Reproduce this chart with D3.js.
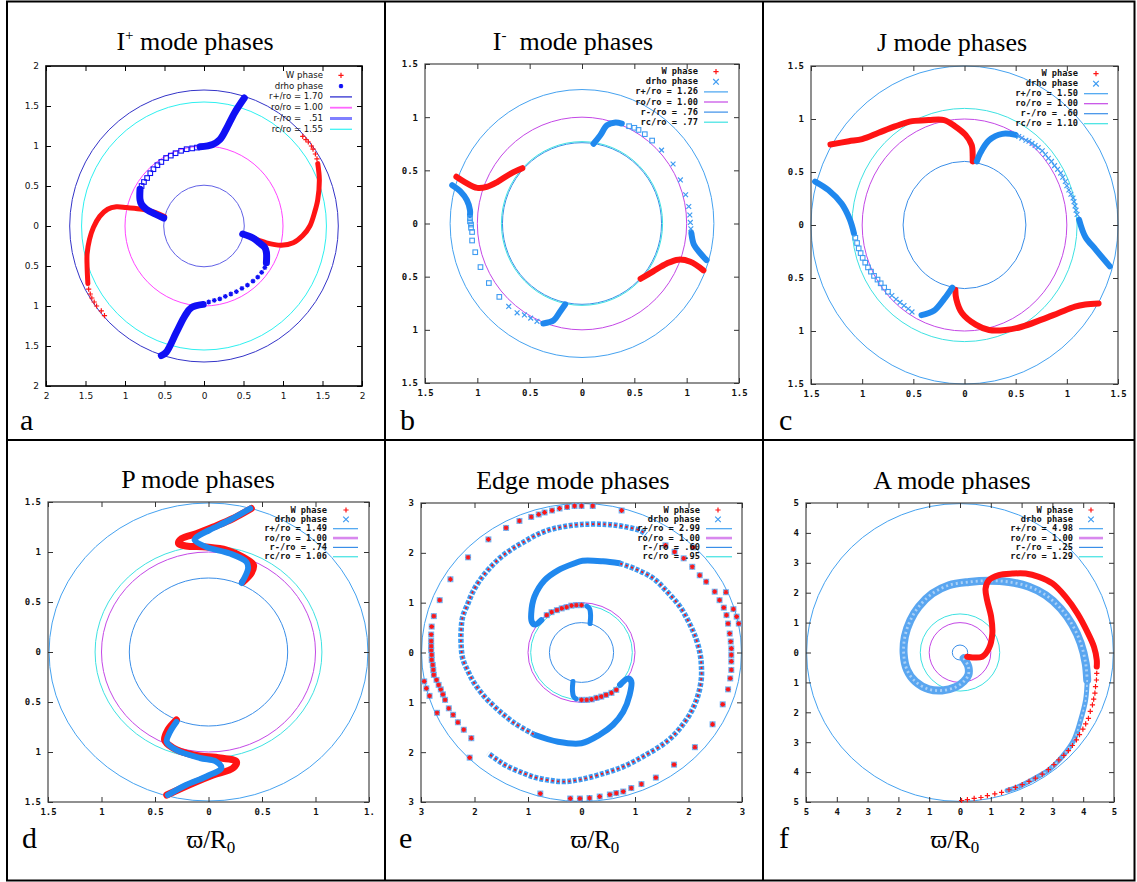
<!DOCTYPE html>
<html>
<head>
<meta charset="utf-8">
<script src="https://cdn.jsdelivr.net/npm/d3@7"></script>
<style>
body { margin: 0; background: #fff; }
svg { display: block; }
</style>
</head>
<body>
<svg id="fig" width="1137" height="882"></svg>
<script>
// mode phase plots, six panels

// ---- text ----
const titleHead = ["I", "I", "J", "P", "Edge", "A"]
const titleSup = ["+", "-", "", "", "", ""]
const panelLetters = ["a", "b", "c", "d", "e", "f"]

const legendA = ["W phase", "drho phase", "r+/ro = 1.70", "ro/ro = 1.00", "r-/ro =   .51", "rc/ro = 1.55"]
const legendB = ["W phase", "drho phase", "r+/ro = 1.26", "ro/ro = 1.00", "r-/ro = .76", "rc/ro = .77"]
const legendC = ["W phase", "drho phase", "r+/ro = 1.50", "ro/ro = 1.00", "r-/ro = .60", "rc/ro = 1.10"]
const legendD = ["W phase", "drho phase", "r+/ro = 1.49", "ro/ro = 1.00", "r-/ro = .74", "rc/ro = 1.06"]
const legendE = ["W phase", "drho phase", "r+/ro = 2.99", "ro/ro = 1.00", "r-/ro = .60", "rc/ro = .95"]
const legendF = ["W phase", "drho phase", "r+/ro = 4.98", "ro/ro = 1.00", "r-/ro = .25", "rc/ro = 1.29"]

// ---- circle radii (r+, ro, r-, rc) ----
const radiiA = [1.70, 1.00, 0.51, 1.55]
const radiiB = [1.26, 1.00, 0.76, 0.77]
const radiiC = [1.50, 1.00, 0.60, 1.10]
const radiiD = [1.49, 1.00, 0.74, 1.06]
const radiiE = [2.99, 1.00, 0.60, 0.95]
const radiiF = [4.98, 1.00, 0.25, 1.29]

// ---- ticks ----
const ticks2 = [-2, -1.5, -1, -0.5, 0, 0.5, 1, 1.5, 2]
const tickLabels2 = ["2", "1.5", "1", "0.5", "0", "0.5", "1", "1.5", "2"]
const ticks15 = [-1.5, -1, -0.5, 0, 0.5, 1, 1.5]
const tickLabels15 = ["1.5", "1", "0.5", "0", "0.5", "1", "1.5"]
const tickLabels15d = ["1.5", "1", "0.5", "0", "0.5", "1", "1."]
const ticks3 = [-3, -2, -1, 0, 1, 2, 3]
const tickLabels3 = ["3", "2", "1", "0", "1", "2", "3"]
const ticks5 = [-5, -4, -3, -2, -1, 0, 1, 2, 3, 4, 5]
const tickLabels5 = ["5", "4", "3", "2", "1", "0", "1", "2", "3", "4", "5"]

// ---- panel a : I+ ----
const aW1Band = [[-0.50,0.12],[-0.62,0.17],[-0.78,0.21],[-0.98,0.23],[-1.11,0.24],[-1.22,0.21],[-1.32,0.12],[-1.40,-0.02],[-1.45,-0.17],[-1.48,-0.35],[-1.48,-0.50],[-1.47,-0.72]]
const aW1Dots = [[-1.46,-0.79],[-1.44,-0.85],[-1.42,-0.90],[-1.39,-0.95],[-1.36,-1.00],[-1.30,-1.06],[-1.26,-1.12]]
const aW2Band = [[0.49,-0.10],[0.62,-0.15],[0.79,-0.21],[0.98,-0.24],[1.13,-0.21],[1.25,-0.12],[1.34,0.00],[1.40,0.17],[1.44,0.33],[1.46,0.58],[1.44,0.78]]
const aW2Dots = [[1.43,0.84],[1.41,0.90],[1.38,0.96],[1.36,1.00],[1.32,1.05],[1.29,1.08],[1.25,1.12]]
const aD1Band = [[-0.51,0.10],[-0.62,0.15],[-0.73,0.21],[-0.79,0.27],[-0.81,0.33],[-0.81,0.46]]
const aD1Squares = [[-0.79,0.50],[-0.76,0.55],[-0.72,0.60],[-0.68,0.66],[-0.64,0.71],[-0.59,0.76],[-0.54,0.80],[-0.48,0.85],[-0.42,0.88],[-0.36,0.91],[-0.29,0.94],[-0.22,0.96],[-0.15,0.97],[-0.09,0.98]]
const aD1Band2 = [[-0.05,0.99],[0.11,1.02],[0.20,1.08],[0.28,1.21],[0.39,1.42],[0.51,1.60]]
const aD2Band = [[0.49,-0.10],[0.62,-0.15],[0.70,-0.21],[0.77,-0.27],[0.79,-0.33],[0.79,-0.46]]
const aD2Stars = [[0.77,-0.52],[0.73,-0.58],[0.68,-0.64],[0.62,-0.69],[0.55,-0.74],[0.48,-0.78],[0.41,-0.82],[0.34,-0.85],[0.27,-0.88],[0.20,-0.91],[0.13,-0.93],[0.06,-0.95]]
const aD2Band2 = [[-0.01,-0.98],[-0.16,-1.02],[-0.24,-1.12],[-0.35,-1.33],[-0.48,-1.58],[-0.54,-1.62]]

// ---- panel b : I- ----
const bW1Band = [[-1.20,0.44],[-1.12,0.39],[-1.00,0.335],[-0.91,0.345],[-0.81,0.39],[-0.68,0.47],[-0.57,0.52]]
const bW2Band = [[0.56,-0.52],[0.68,-0.45],[0.81,-0.376],[0.92,-0.34],[1.035,-0.36],[1.16,-0.44]]
const bD1Band = [[-1.24,0.36],[-1.16,0.30],[-1.10,0.22],[-1.07,0.125],[-1.07,0.08]]
const bD1Squares = [[-1.07,0.05],[-1.07,0.02],[-1.06,-0.01],[-1.06,-0.04],[-1.05,-0.08],[-1.05,-0.16],[-1.02,-0.27],[-0.97,-0.41],[-0.89,-0.56],[-0.79,-0.69]]
const bD1Crosses = [[-0.70,-0.78],[-0.62,-0.84],[-0.55,-0.86],[-0.49,-0.89],[-0.43,-0.92]]
const bD1Band2 = [[-0.37,-0.94],[-0.27,-0.91],[-0.21,-0.83],[-0.16,-0.76]]
const bD2Band = [[0.11,0.75],[0.175,0.83],[0.24,0.925],[0.32,0.95],[0.38,0.94]]
const bD2Squares = [[0.45,0.915],[0.50,0.90],[0.54,0.88],[0.60,0.84],[0.67,0.78]]
const bD2Crosses = [[0.76,0.69],[0.87,0.56],[0.94,0.41],[0.99,0.27],[1.02,0.16],[1.03,0.08],[1.035,0.01],[1.04,-0.05]]
const bD2Band2 = [[1.045,-0.09],[1.07,-0.20],[1.13,-0.28],[1.19,-0.345]]

// ---- panel c : J ----
const cW1Band = [[-1.31,0.76],[-1.13,0.79],[-1.00,0.81],[-0.84,0.87],[-0.68,0.93],[-0.51,0.98],[-0.35,0.99],[-0.20,0.99],[-0.09,0.93],[0.01,0.85],[0.07,0.755],[0.08,0.65],[0.08,0.60]]
const cW2Band = [[-0.09,-0.61],[-0.08,-0.70],[-0.025,-0.83],[0.11,-0.94],[0.24,-0.99],[0.40,-0.99],[0.56,-0.96],[0.76,-0.89],[0.92,-0.83],[1.08,-0.77],[1.18,-0.75],[1.31,-0.74]]
const cD1Band = [[0.12,0.60],[0.155,0.68],[0.24,0.80],[0.37,0.86],[0.50,0.85]]
const cD1Crosses = [[0.53,0.835],[0.56,0.82],[0.60,0.80],[0.63,0.79],[0.66,0.77],[0.69,0.75],[0.72,0.73],[0.76,0.70],[0.79,0.665],[0.82,0.63],[0.85,0.60],[0.88,0.56],[0.91,0.525],[0.94,0.49],[0.96,0.45],[0.985,0.41],[1.00,0.37],[1.02,0.33],[1.04,0.29],[1.06,0.255],[1.07,0.22],[1.08,0.18],[1.09,0.14],[1.10,0.10]]
const cD1Band2 = [[1.12,0.05],[1.18,-0.11],[1.28,-0.23],[1.42,-0.39]]
const cD2Band = [[-1.46,0.41],[-1.33,0.33],[-1.20,0.20],[-1.12,0.05],[-1.08,-0.08]]
const cD2Squares = [[-1.067,-0.12],[-1.05,-0.17],[-1.034,-0.22],[-1.015,-0.265],[-0.995,-0.31],[-0.97,-0.355],[-0.943,-0.40],[-0.914,-0.44],[-0.884,-0.48],[-0.85,-0.515],[-0.819,-0.55],[-0.785,-0.59],[-0.748,-0.63]]
const cD2Crosses = [[-0.71,-0.665],[-0.669,-0.70],[-0.63,-0.73],[-0.591,-0.76],[-0.55,-0.79],[-0.513,-0.82]]
const cD2Band2 = [[-0.42,-0.85],[-0.30,-0.81],[-0.20,-0.70],[-0.12,-0.59]]

// ---- panel d : P ----
const dW1Band = [[0.40,1.435],[0.23,1.335],[0.044,1.25],[-0.11,1.185],[-0.25,1.135],[-0.28,1.085],[-0.21,1.06],[-0.02,1.05],[0.17,1.02],[0.32,0.95],[0.42,0.87],[0.40,0.79],[0.32,0.70]]
const dD1Band = [[0.39,1.435],[0.20,1.32],[0.01,1.22],[-0.11,1.15],[-0.13,1.12],[-0.02,1.05],[0.20,0.985],[0.355,0.90],[0.37,0.835],[0.31,0.69]]
const dW2Band = [[-0.30,-0.68],[-0.38,-0.78],[-0.41,-0.88],[-0.33,-0.96],[-0.14,-1.03],[0.11,-1.06],[0.26,-1.095],[0.23,-1.16],[0.044,-1.23],[-0.14,-1.31],[-0.39,-1.43]]
const dD2Band = [[-0.30,-0.70],[-0.36,-0.80],[-0.39,-0.90],[-0.30,-0.98],[-0.08,-1.06],[0.07,-1.095],[0.12,-1.16],[-0.02,-1.245],[-0.21,-1.33],[-0.38,-1.43]]

// ---- panel e : edge (W and drho nearly coincide) ----
const eAInner = [[0.16,0.58],[0.17,0.75],[0.15,0.88],[0.10,0.93]]
const eACircle = [[0.0,0.95],[-0.10,0.95],[-0.19,0.94],[-0.28,0.91],[-0.37,0.885],[-0.46,0.85],[-0.56,0.81],[-0.65,0.75]]
const eABand = [[-0.75,0.65],[-0.87,0.56],[-0.93,0.62],[-0.94,0.78],[-0.88,1.12],[-0.69,1.45],[-0.44,1.65],[-0.13,1.79],[0.02,1.84],[0.40,1.83],[0.71,1.79]]
const eAChain = [[0.71,1.79],[1.0,1.68],[1.34,1.49],[1.60,1.22],[1.84,0.92],[2.02,0.58],[2.15,0.25],[2.22,-0.05],[2.24,-0.25],[2.24,-0.52],[2.18,-0.85],[2.05,-1.19],[1.84,-1.52],[1.59,-1.79],[1.21,-2.05],[0.78,-2.29],[0.34,-2.45],[-0.03,-2.55],[-0.32,-2.59],[-0.57,-2.57],[-0.85,-2.51],[-1.09,-2.42],[-1.41,-2.27],[-1.58,-2.15],[-1.75,-2.02]]
const eAOuter = [[-2.06,-1.72],[-2.20,-1.55],[-2.31,-1.40],[-2.40,-1.25],[-2.48,-1.12],[-2.55,-0.95],[-2.59,-0.84],[-2.63,-0.74],[-2.67,-0.65],[-2.71,-0.55],[-2.76,-0.45],[-2.77,-0.35],[-2.78,-0.25],[-2.80,-0.15],[-2.80,-0.05],[-2.81,0.05],[-2.81,0.13],[-2.81,0.23],[-2.81,0.36],[-2.80,0.52],[-2.76,0.73],[-2.65,1.05],[-2.45,1.47],[-2.12,1.91],[-1.74,2.27],[-1.41,2.50],[-1.16,2.64],[-0.94,2.72],[-0.80,2.77],[-0.69,2.81],[-0.55,2.85],[-0.41,2.89],[-0.27,2.92],[-0.13,2.94],[0.0,2.94],[0.21,2.94],[0.75,2.85],[2.09,2.11],[2.70,1.21],[2.84,0.87],[2.90,0.72],[2.94,0.58]]
const eBInner = [[-0.16,-0.58],[-0.17,-0.75],[-0.15,-0.88],[-0.10,-0.93]]
const eBCircle = [[0.0,-0.95],[0.10,-0.95],[0.19,-0.94],[0.28,-0.91],[0.37,-0.885],[0.46,-0.85],[0.56,-0.81],[0.65,-0.75]]
const eBBand = [[0.72,-0.65],[0.87,-0.52],[0.93,-0.58],[0.90,-0.85],[0.78,-1.19],[0.59,-1.45],[0.34,-1.65],[0.0,-1.82],[-0.44,-1.79],[-0.88,-1.65]]
const eBChain = [[-0.88,-1.65],[-1.25,-1.42],[-1.56,-1.15],[-1.81,-0.89],[-2.00,-0.62],[-2.12,-0.38],[-2.22,-0.12],[-2.25,0.15],[-2.25,0.45],[-2.22,0.72],[-2.12,0.99],[-2.03,1.22],[-1.90,1.45],[-1.72,1.69],[-1.50,1.92],[-1.28,2.09],[-1.06,2.23],[-0.82,2.37],[-0.57,2.47],[-0.32,2.53],[0.0,2.57],[0.47,2.57],[0.78,2.53],[1.09,2.45],[1.21,2.37]]
const eBOuter = [[1.57,2.15],[1.74,2.02],[1.91,1.89],[2.07,1.72],[2.21,1.55],[2.33,1.42],[2.49,1.22],[2.58,1.05],[2.66,0.90],[2.71,0.75],[2.74,0.58],[2.77,0.38],[2.79,0.22],[2.80,0.08],[2.80,-0.05],[2.80,-0.18],[2.80,-0.35],[2.78,-0.52],[2.74,-0.74],[2.64,-1.04],[2.45,-1.44],[2.12,-1.90],[1.73,-2.25],[1.39,-2.51],[1.12,-2.64],[0.93,-2.72],[0.78,-2.79],[0.65,-2.82],[0.53,-2.85],[0.34,-2.89],[0.15,-2.92],[-0.03,-2.93],[-0.21,-2.93],[-0.77,-2.83],[-2.09,-2.11],[-2.70,-1.21],[-2.84,-0.87],[-2.90,-0.72],[-2.94,-0.58]]

// ---- panel f : A ----
const fWBand = [[0.23,-0.14],[0.72,-0.14],[0.94,0.14],[1.05,0.64],[1.01,1.20],[0.88,1.75],[0.83,2.14],[0.94,2.42],[1.26,2.59],[1.70,2.64],[2.13,2.64],[2.56,2.53],[3.00,2.31],[3.43,1.86],[3.81,1.31],[4.13,0.70],[4.35,0.19],[4.44,-0.25],[4.44,-0.47]]
const fWDots = [[4.44,-0.70],[4.43,-0.92],[4.40,-1.14],[4.38,-1.36],[4.34,-1.56],[4.30,-1.75],[4.23,-1.97],[4.17,-2.20],[4.08,-2.39],[3.99,-2.56],[3.88,-2.75],[3.78,-2.92],[3.65,-3.11],[3.52,-3.28],[3.37,-3.44],[3.21,-3.59],[3.05,-3.75],[2.87,-3.92],[2.67,-4.07],[2.45,-4.20],[2.24,-4.31],[2.02,-4.42],[1.80,-4.51],[1.59,-4.59],[1.35,-4.68],[1.13,-4.73],[0.89,-4.79],[0.68,-4.85],[0.46,-4.88],[0.24,-4.92],[0.05,-4.95]]
const fDBand = [[0.12,-0.19],[0.27,-0.47],[0.27,-0.75],[0.12,-0.97],[-0.15,-1.16],[-0.58,-1.27],[-1.01,-1.23],[-1.45,-0.97],[-1.72,-0.58],[-1.83,-0.03],[-1.79,0.53],[-1.61,1.08],[-1.34,1.53],[-0.90,1.97],[-0.36,2.25],[0.29,2.36],[0.94,2.40],[1.59,2.36],[2.24,2.20],[2.78,1.92],[3.27,1.47],[3.65,0.92],[3.92,0.31],[4.08,-0.36],[4.13,-0.92]]
const fDBand2 = [[4.13,-0.92],[4.08,-1.58],[3.92,-2.25],[3.70,-2.92],[3.32,-3.48],[2.89,-3.92],[2.35,-4.25],[1.80,-4.53],[1.53,-4.61]]

// ---- colours ----
const RED = "#ff1414"
const BLUE_A = "#1010f5"
const BLUE = "#2088ee"
const XBLUE = "#3f9cf2"
const FBLUE = "#5aa6f0"
const ringsA = ["#3434c8", "#ff44ff", "#6262e6", "#2ef0f0"]
const ringsG = ["#45a2f0", "#c448e6", "#3a8ee8", "#3ee2e2"]

const svg = d3.select("#fig")

// whole figure frame and dividers
svg.append("rect").attr("x", 7).attr("y", 1.5).attr("width", 1127.5).attr("height", 879)
  .attr("fill", "none").attr("stroke", "#000").attr("stroke-width", 2)
svg.append("line").attr("x1", 385).attr("x2", 385).attr("y1", 1.5).attr("y2", 880.5).attr("stroke", "#000").attr("stroke-width", 2)
svg.append("line").attr("x1", 763).attr("x2", 763).attr("y1", 1.5).attr("y2", 880.5).attr("stroke", "#000").attr("stroke-width", 2)
svg.append("line").attr("x1", 7).attr("x2", 1134.5).attr("y1", 440).attr("y2", 440).attr("stroke", "#000").attr("stroke-width", 2)

const plusD = s => `M${-s},0H${s}M0,${-s}V${s}`
const crossD = s => `M${-s},${-s}L${s},${s}M${-s},${s}L${s},${-s}`
const starD = s => plusD(s) + crossD(s * 0.72)

const panels = [
  { box: [46, 362, 66, 386], R: 2, ticks: ticks2, xlabels: tickLabels2, ylabels: tickLabels2, radii: radiiA, rings: ringsA,
    legend: legendA, leg: [323, 75.3, 10.8, 341, 330, 352], title: [195, 50], letter: [20, 430], xt: null, gnu: false,
    layers: [
      { pts: aW1Band, kind: "band", color: RED, w: 5 }, { pts: aW1Dots, kind: "plus", color: RED },
      { pts: aW2Band, kind: "band", color: RED, w: 5 }, { pts: aW2Dots, kind: "plus", color: RED },
      { pts: aD1Band, kind: "band", color: BLUE_A, w: 7 }, { pts: aD1Squares, kind: "square", color: BLUE_A },
      { pts: aD1Band2, kind: "band", color: BLUE_A, w: 7 },
      { pts: aD2Band, kind: "band", color: BLUE_A, w: 7 }, { pts: aD2Stars, kind: "star", color: BLUE_A },
      { pts: aD2Band2, kind: "band", color: BLUE_A, w: 7 }
    ] },
  { box: [425, 739, 64, 383], R: 1.5, ticks: ticks15, xlabels: tickLabels15, ylabels: tickLabels15, radii: radiiB, rings: ringsG,
    legend: legendB, leg: [698, 71.7, 10.1, 716, 704, 728], title: [573, 50], letter: [400, 430], xt: null, gnu: true,
    layers: [
      { pts: bW1Band, kind: "band", color: RED, w: 6 }, { pts: bW2Band, kind: "band", color: RED, w: 6 },
      { pts: bD1Band, kind: "band", color: BLUE, w: 6 }, { pts: bD1Squares, kind: "square", color: XBLUE },
      { pts: bD1Crosses, kind: "cross", color: XBLUE }, { pts: bD1Band2, kind: "band", color: BLUE, w: 6 },
      { pts: bD2Band, kind: "band", color: BLUE, w: 6 }, { pts: bD2Squares, kind: "square", color: XBLUE },
      { pts: bD2Crosses, kind: "cross", color: XBLUE }, { pts: bD2Band2, kind: "band", color: BLUE, w: 6 }
    ] },
  { box: [811, 1118, 66, 384], R: 1.5, ticks: ticks15, xlabels: tickLabels15, ylabels: tickLabels15, radii: radiiC, rings: ringsG,
    legend: legendC, leg: [1078, 73.7, 10, 1096, 1084, 1108], title: [952, 51], letter: [779, 430], xt: null, gnu: true,
    layers: [
      { pts: cW1Band, kind: "band", color: RED, w: 6 }, { pts: cW2Band, kind: "band", color: RED, w: 6 },
      { pts: cD1Band, kind: "band", color: BLUE, w: 6 }, { pts: cD1Crosses, kind: "cross", color: XBLUE },
      { pts: cD1Band2, kind: "band", color: BLUE, w: 6 },
      { pts: cD2Band, kind: "band", color: BLUE, w: 6 }, { pts: cD2Squares, kind: "square", color: XBLUE },
      { pts: cD2Crosses, kind: "cross", color: XBLUE }, { pts: cD2Band2, kind: "band", color: BLUE, w: 6 }
    ] },
  { box: [48, 369, 502, 802], R: 1.5, ticks: ticks15, xlabels: tickLabels15d, ylabels: tickLabels15, radii: radiiD, rings: ringsG,
    legend: legendD, leg: [327, 510, 9.35, 346, 333, 358], title: [198, 488], letter: [22, 848], xt: [211, 848], gnu: true,
    layers: [
      { pts: dW1Band, kind: "band", color: RED, w: 7 }, { pts: dD1Band, kind: "band", color: BLUE, w: 6 },
      { pts: dW2Band, kind: "band", color: RED, w: 7 }, { pts: dD2Band, kind: "band", color: BLUE, w: 6 }
    ] },
  { box: [421, 742, 503, 802], R: 3, ticks: ticks3, xlabels: tickLabels3, ylabels: tickLabels3, radii: radiiE, rings: ringsG,
    legend: legendE, leg: [700, 510, 9.35, 718, 706, 732], title: [573, 489], letter: [399, 848], xt: [595, 848], gnu: true,
    layers: [
      { pts: eAInner, kind: "band", color: BLUE, w: 5 }, { pts: eACircle, kind: "emark" },
      { pts: eABand, kind: "band", color: BLUE, w: 6 }, { pts: eAChain, kind: "echain" },
      { pts: eAOuter, kind: "emark" },
      { pts: eBInner, kind: "band", color: BLUE, w: 5 }, { pts: eBCircle, kind: "emark" },
      { pts: eBBand, kind: "band", color: BLUE, w: 6 }, { pts: eBChain, kind: "echain" },
      { pts: eBOuter, kind: "emark" }
    ] },
  { box: [806, 1114, 503, 802], R: 5, ticks: ticks5, xlabels: tickLabels5, ylabels: tickLabels5, radii: radiiF, rings: ringsG,
    legend: legendF, leg: [1073, 510, 9.35, 1091, 1079, 1103], title: [952, 489], letter: [779, 848], xt: [955, 848], gnu: true,
    layers: [
      { pts: fDBand, kind: "tband", color: FBLUE, w: 8 }, { pts: fDBand2, kind: "tband", color: FBLUE, w: 5 },
      { pts: fWBand, kind: "band", color: RED, w: 6 }, { pts: fWDots, kind: "plus", color: RED }
    ] }
]

panels.forEach((p, pi) => drawPanel(p, pi))

function drawPanel(p, pi) {
  const g = svg.append("g")
  const [x0, x1, y0, y1] = p.box
  const x = d3.scaleLinear().domain([-p.R, p.R]).range([x0, x1])
  const y = d3.scaleLinear().domain([-p.R, p.R]).range([y1, y0])
  const tickFont = p.gnu ? "'DejaVu Sans Mono', monospace" : "'DejaVu Sans', sans-serif"

  // reference circles
  g.selectAll(".ring").data(p.radii).join("ellipse")
    .attr("class", "ring")
    .attr("cx", x(0)).attr("cy", y(0))
    .attr("rx", d => x(d) - x(0)).attr("ry", d => y(0) - y(d))
    .attr("fill", "none")
    .attr("stroke", (d, i) => p.rings[i])
    .attr("stroke-width", 1)

  // frame
  g.append("rect").attr("x", x0).attr("y", y0).attr("width", x1 - x0).attr("height", y1 - y0)
    .attr("fill", "none").attr("stroke", p.gnu ? "#555" : "#000").attr("stroke-width", p.gnu ? 1.3 : 1.6)

  // inward ticks on all four sides, labels left and bottom
  const labX = d => p.xlabels[p.ticks.indexOf(d)]
  const labY = d => p.ylabels[p.ticks.indexOf(d)]
  const axes = [
    [d3.axisBottom(x), 0, y1, labX], [d3.axisTop(x), 0, y0, null],
    [d3.axisLeft(y), x0, 0, labY], [d3.axisRight(y), x1, 0, null]
  ]
  axes.forEach(([axis, tx, ty, fmt]) => {
    const a = g.append("g").attr("transform", `translate(${tx},${ty})`)
      .call(axis.tickValues(p.ticks).tickSizeInner(-5).tickSizeOuter(0).tickPadding(7)
        .tickFormat(fmt || (() => "")))
    a.select(".domain").remove()
    a.selectAll("line").attr("stroke", p.gnu ? "#333" : "#000")
    a.selectAll("text")
      .attr("font-family", tickFont)
      .attr("font-size", 9)
      .attr("font-weight", p.gnu ? "bold" : "normal")
      .attr("fill", "#111")
  })

  // phase data
  const line = d3.line().x(d => x(d[0])).y(d => y(d[1])).curve(d3.curveCatmullRom)
  const dg = g.append("g")
  p.layers.forEach(L => {
    if (L.kind === "band" || L.kind === "tband") {
      dg.append("path").attr("d", line(L.pts)).attr("fill", "none")
        .attr("stroke", L.color).attr("stroke-width", L.w)
        .attr("stroke-linecap", "round").attr("stroke-linejoin", "round")
      if (L.kind === "tband") {
        // light x-marker texture inside the wide band
        dg.append("path").attr("d", line(L.pts)).attr("fill", "none")
          .attr("stroke", "#a9d0f7").attr("stroke-width", L.w * 0.35)
          .attr("stroke-dasharray", "2 3")
      }
    } else if (L.kind === "echain") {
      dg.append("path").attr("d", line(L.pts)).attr("fill", "none")
        .attr("stroke", XBLUE).attr("stroke-width", 5.5).attr("stroke-dasharray", "4 1.6")
      dg.append("path").attr("d", line(L.pts)).attr("fill", "none")
        .attr("stroke", RED).attr("stroke-width", 1.8).attr("stroke-dasharray", "2.2 3.4")
        .attr("stroke-dashoffset", -0.9)
    } else if (L.kind === "emark") {
      const m = dg.append("g").selectAll("g").data(L.pts).join("g")
        .attr("transform", d => `translate(${x(d[0])},${y(d[1])})`)
      m.append("rect").attr("x", -3).attr("y", -3).attr("width", 6).attr("height", 6)
        .attr("fill", "#5aa8f2").attr("opacity", 0.85)
      m.append("path").attr("d", starD(2.4)).attr("stroke", RED).attr("stroke-width", 1.1).attr("fill", "none")
    } else if (L.kind === "square") {
      dg.append("g").selectAll("rect").data(L.pts).join("rect")
        .attr("x", d => x(d[0]) - 2.3).attr("y", d => y(d[1]) - 2.3)
        .attr("width", 4.6).attr("height", 4.6)
        .attr("fill", "none").attr("stroke", L.color).attr("stroke-width", 1.1)
    } else {
      const shape = L.kind === "plus" ? plusD(2.6) : L.kind === "star" ? starD(2.4) : crossD(2.4)
      dg.append("g").selectAll("path").data(L.pts).join("path")
        .attr("transform", d => `translate(${x(d[0])},${y(d[1])})`)
        .attr("d", shape).attr("fill", "none")
        .attr("stroke", L.color).attr("stroke-width", 1.2)
    }
  })

  // legend
  const [lx, ly, ldy, mx, lx0, lx1] = p.leg
  const lg = g.append("g")
  lg.selectAll("text").data(p.legend).join("text")
    .attr("x", lx).attr("y", (d, i) => ly + i * ldy)
    .attr("text-anchor", "end").attr("dominant-baseline", "middle")
    .attr("font-family", tickFont)
    .attr("font-size", p.gnu ? 8.7 : 8.6)
    .attr("font-weight", p.gnu ? "bold" : "normal")
    .attr("fill", "#111")
    .attr("xml:space", "preserve")
    .style("white-space", "pre")
    .text(d => d)
  lg.append("path").attr("transform", `translate(${mx},${ly})`).attr("d", plusD(2.6))
    .attr("stroke", RED).attr("stroke-width", 1.2)
  lg.append("path").attr("transform", `translate(${mx},${ly + ldy})`)
    .attr("d", p.gnu ? crossD(2.8) : starD(2.2))
    .attr("stroke", p.gnu ? XBLUE : BLUE_A).attr("stroke-width", p.gnu ? 1.2 : 1.3)
  const legW = p.gnu ? [1.2, pi >= 3 ? 2.6 : 1.2, 1.2, 1.2] : [1.3, 1.8, 3, 1.3]
  const legC = p.gnu ? [ringsG[0], pi >= 3 ? "#d888ee" : ringsG[1], ringsG[2], ringsG[3]]
                     : ["#3030d0", "#ff66ff", "#8080ff", "#40f4f4"]
  p.radii.forEach((r, i) => {
    lg.append("line").attr("x1", lx0).attr("x2", lx1)
      .attr("y1", ly + (i + 2) * ldy).attr("y2", ly + (i + 2) * ldy)
      .attr("stroke", legC[i]).attr("stroke-width", legW[i])
  })

  // title, letter, x title
  const t = g.append("text").attr("x", p.title[0]).attr("y", p.title[1])
    .attr("text-anchor", "middle")
    .attr("font-family", "'Liberation Serif', 'Times New Roman', serif")
    .attr("font-size", 26).attr("fill", "#000")
  t.append("tspan").text(titleHead[pi])
  if (titleSup[pi]) {
    t.append("tspan").attr("dy", -10).attr("font-size", 15).text(titleSup[pi])
    t.append("tspan").attr("dy", 10).text(pi === 1 ? "  mode phases" : " mode phases")
  } else {
    t.append("tspan").text(" mode phases")
  }
  t.attr("xml:space", "preserve").style("white-space", "pre")

  g.append("text").attr("x", p.letter[0]).attr("y", p.letter[1])
    .attr("font-family", "'Liberation Serif', 'Times New Roman', serif")
    .attr("font-size", 30).attr("fill", "#000")
    .text(panelLetters[pi])

  if (p.xt) {
    const xt = g.append("text").attr("x", p.xt[0]).attr("y", p.xt[1])
      .attr("text-anchor", "middle")
      .attr("font-family", "'Liberation Serif', 'Times New Roman', serif")
      .attr("font-size", 25).attr("fill", "#000")
    xt.append("tspan").text("\u03D6/R")
    xt.append("tspan").attr("dy", 5).attr("font-size", 17).text("0")
  }
}
</script>
</body>
</html>
